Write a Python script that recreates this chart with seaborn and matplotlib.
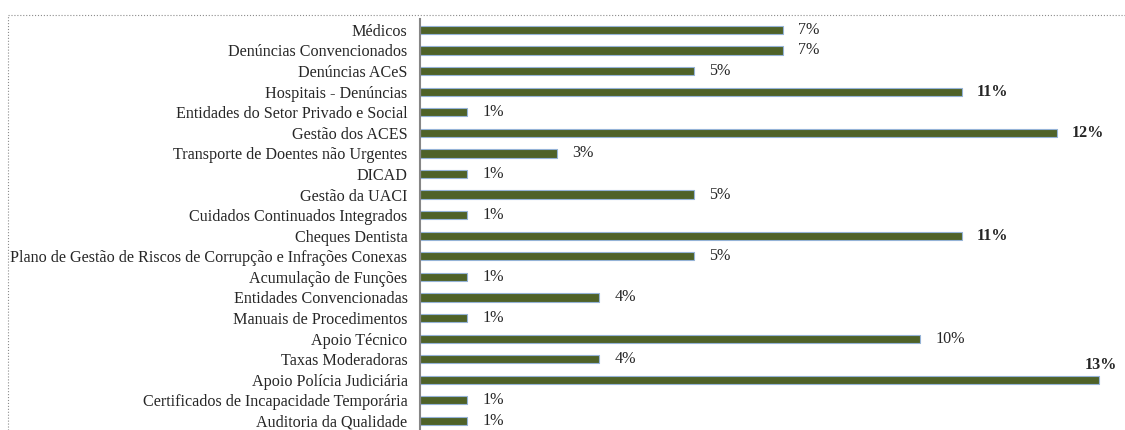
import matplotlib
matplotlib.use('Agg')
import matplotlib.pyplot as plt
import seaborn as sns
from matplotlib.lines import Line2D

categorias = [
    'Médicos', 'Denúncias Convencionados', 'Denúncias ACeS', 'Hospitais - Denúncias',
    'Entidades do Setor Privado e Social', 'Gestão dos ACES', 'Transporte de Doentes não Urgentes',
    'DICAD', 'Gestão da UACI', 'Cuidados Continuados Integrados', 'Cheques Dentista',
    'Plano de Gestão de Riscos de Corrupção e Infrações Conexas', 'Acumulação de Funções',
    'Entidades Convencionadas', 'Manuais de Procedimentos', 'Apoio Técnico', 'Taxas Moderadoras',
    'Apoio Polícia Judiciária', 'Certificados de Incapacidade Temporária', 'Auditoria da Qualidade'
]
valores = [6.9, 6.9, 5.2, 10.3, 0.9, 12.1, 2.6, 0.9, 5.2, 0.9,
           10.3, 5.2, 0.9, 3.4, 0.9, 9.5, 3.4, 12.9, 0.9, 0.9]
rotulos = ['7%', '7%', '5%', '11%', '1%', '12%', '3%', '1%', '5%', '1%',
           '11%', '5%', '1%', '4%', '1%', '10%', '4%', '13%', '1%', '1%']

sns.set_style('white')
plt.rcParams['font.family'] = ['Liberation Serif', 'DejaVu Serif']

fig = plt.figure(figsize=(11.25, 4.3), dpi=100)
ax = fig.add_axes([420/1125, 0, 705/1125, 411/430])

sns.barplot(x=valores, y=categorias, orient='h', color='#4F6228', saturation=1,
            edgecolor='#95B3D7', linewidth=0.8, width=0.4, ax=ax)

ax.set_xlim(0, 13.4)
ax.set_ylim(19.44, -0.53)
ax.set_xticks([])
ax.set_xlabel('')
ax.set_ylabel('')
ax.tick_params(axis='y', length=0, pad=9, labelsize=11.6)
for s in ['top', 'right', 'bottom']:
    ax.spines[s].set_visible(False)
ax.spines['left'].set_color('#868686')
ax.spines['left'].set_linewidth(1.5)

for i, (v, r) in enumerate(zip(valores, rotulos)):
    peso = 'bold' if int(r[:-1]) >= 11 else 'normal'
    if i == 17:
        ax.annotate(r, (v, i), xytext=(13, 11), textcoords='offset points',
                    ha='right', va='center', fontsize=11.6, fontweight=peso)
    else:
        ax.annotate(r, (v, i), xytext=(11, 0), textcoords='offset points',
                    ha='left', va='center', fontsize=11.6, fontweight=peso)

# moldura pontilhada
fig.add_artist(Line2D([8/1125, 1], [1 - 15/430, 1 - 15/430], color='#8c8c8c',
                      linestyle=':', linewidth=0.8))
fig.add_artist(Line2D([8/1125, 8/1125], [0, 1 - 15/430], color='#8c8c8c',
                      linestyle=':', linewidth=0.8))

fig.savefig('out.png', dpi=100)
